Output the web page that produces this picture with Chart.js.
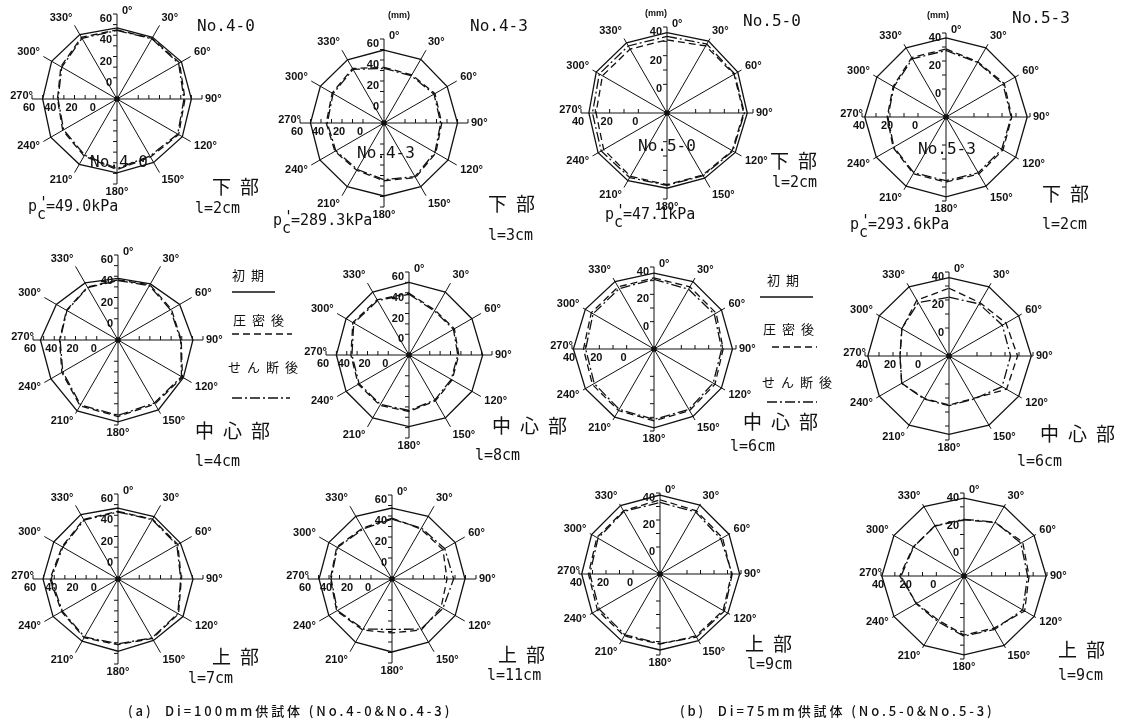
<!DOCTYPE html>
<html><head><meta charset="utf-8">
<script src="https://cdn.jsdelivr.net/npm/chart.js@4.4.0/dist/chart.umd.min.js"></script>
<style>
body{margin:0;background:#fff;width:1122px;height:727px;position:relative;overflow:hidden;font-family:'DejaVu Sans Mono',monospace;color:#111}
canvas{position:absolute}
.t{position:absolute;white-space:nowrap;line-height:1}
.no{font-size:16px}
.jp{font-family:'Noto Sans CJK JP';font-size:19px;letter-spacing:9px}
.len{font-size:15px}
.pc{font-size:15px}
.sc{position:relative;display:inline-block;width:9px;height:10px}
.sc i{position:absolute;left:2px;top:-5px;font-style:normal}
.sc b{position:absolute;left:0;top:6px;font-weight:normal}
.mm{font-family:'Liberation Sans';font-size:9px;font-weight:bold}
.cap{font-family:'Noto Sans CJK JP';font-size:13px;font-weight:500;letter-spacing:2.9px}
.lg{font-family:'Noto Sans CJK JP';font-size:13px;letter-spacing:6px}
svg{position:absolute;left:0;top:0}
</style></head><body>
<script>
// 12 directions, clockwise from the top
const angleLabels = ['0°','30°','60°','90°','120°','150°','180°','210°','240°','270°','300°','330°'];
const ticksNo4 = [0, 20, 40, 60];
const ticksNo5 = [0, 20, 40];

// No.4-0 (Di=100mm, p'c=49.0kPa)
const no40_low_init  = [47, 47, 50, 50, 51, 49, 49.5, 51, 52, 50, 51, 50];
const no40_low_cons  = [45, 46, 48, 44, 47, 43, 46.5, 42, 39, 36, 41, 47];
const no40_low_shear = [44.5, 45.5, 47, 43, 46, 42, 45.5, 41, 38, 35.5, 40, 46];
const no40_mid_init  = [38, 41, 47, 50.5, 51, 56, 57, 57, 53, 53, 47, 42];
const no40_mid_cons  = [36.5, 40, 38, 39.5, 50, 49.5, 52, 51.5, 41, 35, 36, 37.5];
const no40_mid_shear = [36, 39, 37, 39, 49, 48.5, 51, 50.5, 40, 34.5, 35.5, 37];
const no40_top_init  = [46.8, 47.8, 47.8, 50.6, 50.6, 46.8, 48, 47.6, 50.6, 50.6, 49.8, 50];
const no40_top_cons  = [43.7, 45, 45, 39.6, 45.8, 44.6, 41.8, 43.8, 41.3, 44, 40.8, 44.8];
const no40_top_shear = [43, 44.5, 44, 39, 45, 44, 41, 43, 40.5, 43, 40, 44];

// No.4-3 (Di=100mm, p'c=289.3kPa)
const no43_low_init  = [49.5, 50, 49.5, 50, 50.5, 50, 49.5, 50, 50.5, 50, 50, 49.5];
const no43_low_cons  = [33, 33, 36, 35, 37, 40, 35, 32, 34, 35, 37, 40];
const no43_low_shear = [32, 32, 35, 34, 36, 39, 34, 31, 33, 34, 36, 39];
const no43_mid_init  = [50, 50, 50, 51, 50, 50, 49, 50, 50, 50, 50, 50];
const no43_mid_cons  = [39.5, 30, 30.5, 28, 28, 31, 34.5, 36, 36.5, 36, 42.5, 41.5];
const no43_mid_shear = [38.5, 29, 29.5, 27, 27, 30, 33.5, 35, 35.5, 35, 41.5, 40.5];
const no43_top_init  = [47.6, 49, 49.5, 49.5, 49.5, 49.5, 49.5, 49.5, 49.5, 49.5, 49.5, 49];
const no43_top_cons  = [38, 35, 36, 32.4, 34, 36, 31.4, 36, 40.8, 38.7, 40.8, 36];
const no43_top_shear = [37, 36, 38, 38.7, 36, 35, 28, 35, 40, 38, 40, 35];

// No.5-0 (Di=75mm, p'c=47.1kPa)
const no50_low_init  = [36, 38, 37, 36, 35, 32.5, 32.5, 34.5, 35.5, 34.5, 37, 36.5];
const no50_low_cons  = [31, 34, 34, 33.5, 32.5, 30, 30, 31, 31, 29.5, 32, 31.5];
const no50_low_shear = [33.5, 35.5, 34.5, 34, 33, 30.5, 30.5, 32, 33, 32, 34.5, 34];
const no50_mid_init  = [35.5, 37, 37, 37.4, 37, 37, 37.7, 37.5, 38, 39, 38, 37];
const no50_mid_cons  = [32, 32.5, 32.5, 30.6, 31.5, 32, 32.6, 32, 32, 31.6, 33, 32.5];
const no50_mid_shear = [31, 30.5, 31, 29.5, 30, 31, 31.5, 31, 30.5, 30, 31.5, 31];
const no50_top_init  = [38.5, 39, 39, 39, 38, 37, 36.3, 37, 38, 38, 38.5, 38.5];
const no50_top_cons  = [35, 34, 33.5, 33, 34, 33, 32, 33, 33.5, 33, 34, 34];
const no50_top_shear = [33, 33, 32, 33.5, 35, 34, 31.5, 32, 32, 32, 33, 33.5];

// No.5-3 (Di=75mm, p'c=293.6kPa)
const no53_low_init  = [36.5, 37, 37, 38, 37.5, 37, 37, 37, 37.5, 38, 37, 37];
const no53_low_cons  = [28.6, 25.5, 28, 27, 27, 27, 26.5, 26.7, 23.6, 22, 23.6, 29];
const no53_low_shear = [27.5, 25, 27, 26.5, 26, 26, 25.5, 26, 23, 21.5, 23, 28];
const no53_mid_init  = [36, 37, 37.5, 38.8, 37.5, 37, 36, 37, 37.5, 38, 37.5, 37];
const no53_mid_cons  = [28.4, 24, 27, 29, 27.5, 15, 15, 15, 19, 15, 18.8, 26];
const no53_mid_shear = [22, 23, 24, 24, 23.8, 15.5, 15.5, 15.5, 19, 15, 19, 24];
const no53_top_init  = [36.3, 38, 38.5, 39.4, 38.5, 38, 37, 38, 38.5, 39.4, 38.5, 38];
const no53_top_cons  = [20.6, 24.7, 29, 27, 30.6, 23.5, 22.7, 17, 19.6, 26.4, 22.3, 21.7];
const no53_top_shear = [21, 25, 27.5, 26, 29, 24.5, 23.5, 18, 20, 25.5, 22, 22];

// panel layout: centre and spoke length in px
const PAD = 34;
const panels = [
  {cx: 117, cy: 99,  R: 85, max: 60, ticks: ticksNo4, sets: [no40_low_init, no40_low_cons, no40_low_shear]},
  {cx: 384, cy: 123, R: 84, max: 60, ticks: ticksNo4, sets: [no43_low_init, no43_low_cons, no43_low_shear]},
  {cx: 667, cy: 113, R: 86, max: 40, ticks: ticksNo5, sets: [no50_low_init, no50_low_cons, no50_low_shear]},
  {cx: 946, cy: 117, R: 84, max: 40, ticks: ticksNo5, sets: [no53_low_init, no53_low_cons, no53_low_shear]},
  {cx: 118, cy: 340, R: 85, max: 60, ticks: ticksNo4, sets: [no40_mid_init, no40_mid_cons, no40_mid_shear]},
  {cx: 409, cy: 355, R: 83, max: 60, ticks: ticksNo4, sets: [no43_mid_init, no43_mid_cons, no43_mid_shear]},
  {cx: 654, cy: 349, R: 82, max: 40, ticks: ticksNo5, sets: [no50_mid_init, no50_mid_cons, no50_mid_shear]},
  {cx: 949, cy: 356, R: 84, max: 40, ticks: ticksNo5, sets: [no53_mid_init, no53_mid_cons, no53_mid_shear]},
  {cx: 118, cy: 579, R: 85, max: 60, ticks: ticksNo4, sets: [no40_top_init, no40_top_cons, no40_top_shear]},
  {cx: 392, cy: 579, R: 84, max: 60, ticks: ticksNo4, sets: [no43_top_init, no43_top_cons, no43_top_shear]},
  {cx: 660, cy: 574, R: 81, max: 40, ticks: ticksNo5, sets: [no50_top_init, no50_top_cons, no50_top_shear]},
  {cx: 964, cy: 576, R: 83, max: 40, ticks: ticksNo5, sets: [no53_top_init, no53_top_cons, no53_top_shear]}
];

const lineStyles = [
  {label: '初期', borderDash: []},
  {label: '圧密後', borderDash: [7, 4]},
  {label: 'せん断後', borderDash: [10, 3, 2, 3]}
];

// axis ticks, numbers, direction labels and the centre dot
function axisDecor(tickValues) {
  return {
    id: 'axisDecor',
    afterDatasetsDraw(chart) {
      const s = chart.scales.r, ctx = chart.ctx;
      const cx = s.xCenter, cy = s.yCenter, R = s.drawingArea;
      ctx.save();
      ctx.strokeStyle = '#111';
      ctx.fillStyle = '#111';
      ctx.lineWidth = 1;
      ctx.beginPath();
      for (let v = 0; v <= s.max; v += 10) {
        const d = s.getDistanceFromCenterForValue(v);
        ctx.moveTo(cx, cy - d); ctx.lineTo(cx - 4, cy - d);
        ctx.moveTo(cx, cy + d); ctx.lineTo(cx - 4, cy + d);
        ctx.moveTo(cx + d, cy); ctx.lineTo(cx + d, cy - 4);
        ctx.moveTo(cx - d, cy); ctx.lineTo(cx - d, cy - 4);
      }
      ctx.stroke();
      ctx.beginPath();
      ctx.arc(cx, cy, 2.8, 0, Math.PI * 2);
      ctx.fill();

      ctx.font = 'bold 11px "Liberation Sans"';
      tickValues.forEach(v => {
        const d = s.getDistanceFromCenterForValue(v);
        ctx.textAlign = 'right'; ctx.textBaseline = 'middle';
        ctx.fillText(v, cx - 5, cy - d + 5);
        ctx.textAlign = 'center'; ctx.textBaseline = 'top';
        ctx.fillText(v, cx - d - 3, cy + 3);
      });

      ctx.font = 'bold 11px "Liberation Sans"';
      chart.data.labels.forEach((lab, i) => {
        const a = i * Math.PI / 6;
        let x, y;
        if (i === 0) {
          ctx.textAlign = 'left'; ctx.textBaseline = 'bottom';
          x = cx + 5; y = cy - R + 2;
        } else if (i === 6) {
          ctx.textAlign = 'center'; ctx.textBaseline = 'top';
          x = cx; y = cy + R + 2;
        } else if (i === 3) {
          ctx.textAlign = 'left'; ctx.textBaseline = 'middle';
          x = cx + R + 3; y = cy;
        } else if (i === 9) {
          ctx.textAlign = 'right'; ctx.textBaseline = 'bottom';
          x = cx - R + 1; y = cy + 2;
        } else {
          const p = s.getPointPosition(i, R + 2);
          ctx.textAlign = Math.sin(a) > 0 ? 'left' : 'right';
          ctx.textBaseline = 'middle';
          x = p.x + Math.sin(a) * 2;
          y = p.y - Math.cos(a) * 7;
        }
        ctx.fillText(lab, x, y);
      });
      ctx.restore();
    }
  };
}

panels.forEach(p => {
  const size = 2 * (p.R + PAD);
  const cv = document.createElement('canvas');
  cv.width = size; cv.height = size;
  cv.style.left = (p.cx - p.R - PAD) + 'px';
  cv.style.top = (p.cy - p.R - PAD) + 'px';
  document.body.appendChild(cv);

  new Chart(cv.getContext('2d'), {
    type: 'radar',
    data: {
      labels: angleLabels,
      datasets: p.sets.map((d, k) => ({
        label: lineStyles[k].label,
        data: d,
        borderColor: '#111',
        borderWidth: 1.3,
        borderDash: lineStyles[k].borderDash,
        fill: false,
        pointRadius: 0,
        tension: 0
      }))
    },
    options: {
      responsive: false,
      animation: false,
      devicePixelRatio: 1,
      layout: { padding: PAD },
      plugins: { legend: { display: false }, tooltip: { enabled: false } },
      scales: {
        r: {
          min: -20,
          max: p.max,
          startAngle: 0,
          grid: { display: false },
          angleLines: { display: true, color: '#111', lineWidth: 1 },
          ticks: { display: false },
          pointLabels: { display: false }
        }
      }
    },
    plugins: [axisDecor(p.ticks)]
  });
});
</script>

<!-- row 1 -->
<div class="t no" style="left:197px;top:18px">No.4-0</div>
<div class="t no" style="left:90px;top:154px">No.4-0</div>
<div class="t jp" style="left:212px;top:176px">下部</div>
<div class="t pc" style="left:28px;top:199px">p<span class="sc"><i>'</i><b>c</b></span>=49.0kPa</div>
<div class="t len" style="left:195px;top:201px">l=2cm</div>

<div class="t mm" style="left:388px;top:11px">(mm)</div>
<div class="t no" style="left:470px;top:18px">No.4-3</div>
<div class="t no" style="left:357px;top:145px">No.4-3</div>
<div class="t jp" style="left:488px;top:193px">下部</div>
<div class="t pc" style="left:273px;top:213px">p<span class="sc"><i>'</i><b>c</b></span>=289.3kPa</div>
<div class="t len" style="left:488px;top:228px">l=3cm</div>

<div class="t mm" style="left:645px;top:9px">(mm)</div>
<div class="t no" style="left:743px;top:13px">No.5-0</div>
<div class="t no" style="left:638px;top:138px">No.5-0</div>
<div class="t jp" style="left:770px;top:150px">下部</div>
<div class="t len" style="left:772px;top:175px">l=2cm</div>
<div class="t pc" style="left:605px;top:207px">p<span class="sc"><i>'</i><b>c</b></span>=47.1kPa</div>

<div class="t mm" style="left:927px;top:11px">(mm)</div>
<div class="t no" style="left:1012px;top:10px">No.5-3</div>
<div class="t no" style="left:918px;top:141px">No.5-3</div>
<div class="t jp" style="left:1042px;top:183px">下部</div>
<div class="t pc" style="left:850px;top:217px">p<span class="sc"><i>'</i><b>c</b></span>=293.6kPa</div>
<div class="t len" style="left:1042px;top:217px">l=2cm</div>

<!-- row 2 -->
<div class="t jp" style="left:195px;top:420px">中心部</div>
<div class="t len" style="left:195px;top:454px">l=4cm</div>
<div class="t jp" style="left:492px;top:415px">中心部</div>
<div class="t len" style="left:475px;top:448px">l=8cm</div>
<div class="t jp" style="left:743px;top:411px">中心部</div>
<div class="t len" style="left:730px;top:439px">l=6cm</div>
<div class="t jp" style="left:1040px;top:423px">中心部</div>
<div class="t len" style="left:1017px;top:454px">l=6cm</div>

<!-- legends -->
<div class="t lg" style="left:232px;top:268px">初期</div>
<div class="t lg" style="left:233px;top:313px">圧密後</div>
<div class="t lg" style="left:228px;top:360px">せん断後</div>
<div class="t lg" style="left:767px;top:273px">初期</div>
<div class="t lg" style="left:763px;top:322px">圧密後</div>
<div class="t lg" style="left:762px;top:375px">せん断後</div>
<svg width="1122" height="727">
  <g stroke="#111" stroke-width="1.3" fill="none">
    <line x1="232" y1="292" x2="275" y2="292"/>
    <line x1="232" y1="334" x2="292" y2="334" stroke-dasharray="7 4"/>
    <line x1="232" y1="398" x2="290" y2="398" stroke-dasharray="10 3 2 3"/>
    <line x1="760" y1="297" x2="813" y2="297"/>
    <line x1="772" y1="347" x2="817" y2="347" stroke-dasharray="7 4"/>
    <line x1="767" y1="402" x2="817" y2="402" stroke-dasharray="10 3 2 3"/>
  </g>
</svg>

<!-- row 3 -->
<div class="t jp" style="left:212px;top:646px">上部</div>
<div class="t len" style="left:188px;top:671px">l=7cm</div>
<div class="t jp" style="left:498px;top:644px">上部</div>
<div class="t len" style="left:487px;top:668px">l=11cm</div>
<div class="t jp" style="left:745px;top:633px">上部</div>
<div class="t len" style="left:747px;top:657px">l=9cm</div>
<div class="t jp" style="left:1058px;top:639px">上部</div>
<div class="t len" style="left:1058px;top:668px">l=9cm</div>

<div class="t cap" style="left:128px;top:704px">(a)&nbsp; Di=100mm供試体 (No.4-0&amp;No.4-3)</div>
<div class="t cap" style="left:680px;top:704px">(b)&nbsp; Di=75mm供試体 (No.5-0&amp;No.5-3)</div>
</body></html>
